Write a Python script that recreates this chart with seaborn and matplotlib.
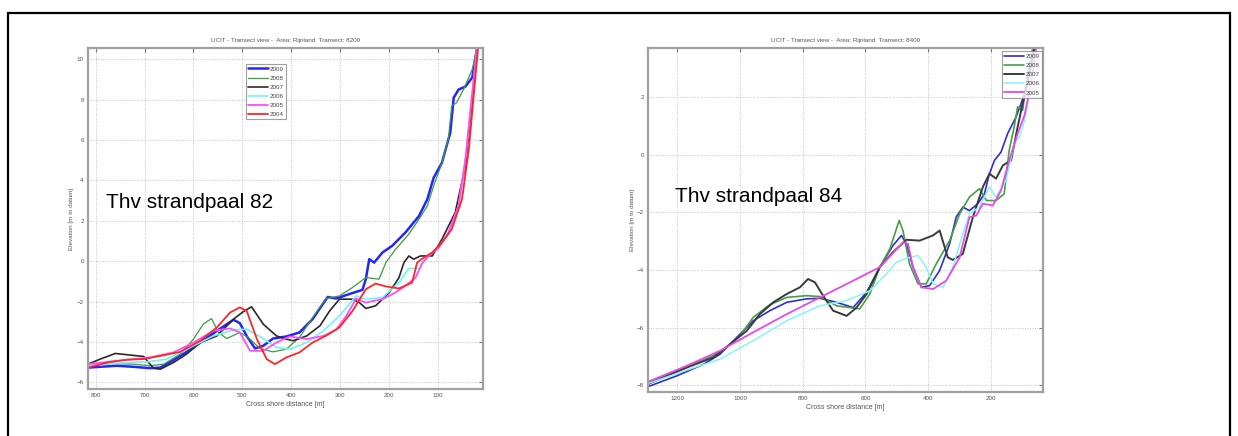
import matplotlib
matplotlib.use("Agg")
import matplotlib.pyplot as plt
import seaborn as sns

# =============================================================================
# Transect 8200 (strandpaal 82) - cross shore distance [m] / elevation [m]
# =============================================================================
x82_2009 = [816, 791, 757, 723, 689, 668, 641, 614, 586, 552, 518, 505, 491, 474, 457, 437, 410,
            383, 356, 325, 308, 281, 254, 247, 240, 230, 213, 193, 166, 138, 121, 108, 91, 74,
            67, 57, 43, 29, 19]
y82_2009 = [-5.27, -5.23, -5.18, -5.23, -5.30, -5.27, -4.90, -4.49, -4.03, -3.45, -2.90, -3.07,
            -3.70, -4.32, -4.19, -3.83, -3.73, -3.53, -2.87, -1.77, -1.85, -1.63, -1.42, -0.89,
            0.10, -0.07, 0.43, 0.76, 1.42, 2.24, 3.07, 4.14, 4.88, 6.37, 8.10, 8.50, 8.65, 9.10,
            10.6]

x82_2008 = [816, 771, 723, 689, 661, 627, 600, 580, 563, 549, 532, 505, 488, 464, 437, 410, 383,
            356, 329, 301, 274, 247, 220, 206, 186, 169, 159, 138, 121, 108, 91, 78, 71, 61, 47,
            29, 19]
y82_2008 = [-5.18, -5.07, -5.10, -5.18, -5.10, -4.60, -3.86, -3.12, -2.84, -3.53, -3.83, -3.53,
            -3.78, -4.32, -4.49, -4.36, -3.78, -2.79, -1.85, -1.72, -1.30, -0.81, -0.89, -0.07,
            0.59, 1.06, 1.34, 2.08, 2.74, 3.73, 4.88, 6.04, 7.69, 7.85, 8.50, 9.50, 10.6]

x82_2007 = [816, 791, 760, 729, 702, 682, 668, 641, 614, 586, 552, 518, 498, 481, 457, 430, 410,
            396, 368, 341, 321, 301, 274, 260, 247, 227, 199, 179, 169, 159, 149, 135, 111, 91,
            64, 43, 29, 19]
y82_2007 = [-5.10, -4.85, -4.57, -4.65, -4.72, -5.30, -5.35, -5.02, -4.60, -4.03, -3.70, -2.87,
            -2.50, -2.26, -3.12, -3.70, -3.86, -3.94, -3.70, -3.20, -2.46, -1.88, -1.88, -2.05,
            -2.34, -2.21, -1.55, -0.81, -0.07, 0.26, 0.10, 0.26, 0.26, 1.09, 2.41, 4.72, 8.02,
            10.6]

x82_2006 = [816, 757, 689, 655, 614, 559, 518, 491, 464, 430, 403, 368, 334, 301, 267, 247, 213,
            179, 159, 138, 118, 97, 78, 57, 43, 29, 19]
y82_2006 = [-5.18, -5.05, -4.97, -4.85, -4.36, -3.70, -3.40, -3.37, -3.73, -4.27, -4.36, -4.03,
            -3.45, -2.71, -1.72, -1.88, -1.80, -1.06, -0.36, -0.36, 0.26, 0.76, 1.34, 2.74, 5.05,
            8.35, 10.6]

x82_2005 = [816, 757, 689, 641, 600, 559, 525, 505, 484, 457, 430, 403, 368, 334, 308, 287, 267,
            247, 213, 186, 166, 145, 131, 118, 97, 78, 57, 43, 29, 19]
y82_2005 = [-5.10, -4.93, -4.77, -4.52, -4.03, -3.45, -3.33, -3.53, -4.44, -4.44, -4.03, -3.73,
            -3.86, -3.70, -3.40, -2.71, -1.85, -2.05, -1.88, -1.55, -1.22, -0.81, -0.07, 0.26,
            0.68, 1.42, 2.74, 5.05, 8.35, 10.6]

x82_2004 = [816, 777, 736, 702, 668, 627, 586, 552, 525, 505, 491, 470, 450, 433, 410, 383, 356,
            329, 301, 274, 247, 227, 206, 179, 152, 142, 131, 111, 91, 71, 50, 36, 17]
y82_2004 = [-5.27, -5.02, -4.88, -4.85, -4.69, -4.49, -3.94, -3.28, -2.54, -2.29, -2.46, -3.86,
            -4.85, -5.10, -4.77, -4.52, -4.03, -3.70, -3.28, -2.46, -1.39, -1.11, -1.25, -1.35,
            -1.06, -0.07, 0.13, 0.43, 0.92, 1.58, 3.07, 5.54, 10.6]

# =============================================================================
# Transect 8400 (strandpaal 84)
# =============================================================================
x84_2009 = [1295, 1202, 1117, 1064, 1011, 958, 905, 851, 788, 745, 692, 639, 596, 554, 512, 485,
            469, 448, 421, 395, 363, 331, 310, 289, 268, 241, 220, 204, 188, 167, 146, 119, 103,
            92, 76, 60]
y84_2009 = [-8.05, -7.67, -7.27, -6.92, -6.34, -5.76, -5.41, -5.12, -5.00, -4.98, -5.12, -5.30,
            -4.77, -3.90, -3.15, -2.80, -3.09, -3.90, -4.60, -4.54, -4.02, -3.09, -2.16, -1.82,
            -1.94, -1.70, -1.36, -0.66, -0.20, 0.09, 0.73, 1.31, 1.77, 2.12, 3.05, 3.68]

x84_2008 = [1295, 1170, 1064, 1000, 958, 905, 851, 788, 745, 692, 618, 586, 554, 522, 492, 480,
            459, 432, 406, 374, 331, 299, 268, 236, 214, 183, 157, 141, 125, 114, 98, 82, 66]
y84_2008 = [-7.90, -7.38, -6.86, -6.28, -5.64, -5.20, -4.95, -4.89, -4.92, -5.24, -5.35, -4.83,
            -3.90, -3.27, -2.28, -2.63, -3.79, -4.48, -4.48, -3.79, -2.98, -2.05, -1.47, -1.18,
            -1.59, -1.59, -1.36, 0.15, 0.96, 1.66, 1.54, 2.82, 3.68]

x84_2007 = [1295, 1170, 1085, 1032, 979, 937, 894, 851, 809, 783, 761, 735, 703, 660, 628, 596,
            554, 512, 469, 427, 384, 363, 337, 321, 289, 257, 225, 204, 183, 161, 135, 114, 98,
            76, 60]
y84_2007 = [-7.96, -7.38, -7.03, -6.57, -6.11, -5.53, -5.12, -4.83, -4.60, -4.31, -4.43, -4.89,
            -5.41, -5.59, -5.30, -4.83, -3.90, -3.38, -2.95, -2.98, -2.80, -2.63, -3.56, -3.65,
            -3.44, -2.17, -1.12, -0.66, -0.83, -0.37, -0.20, 0.96, 1.77, 2.82, 3.68]

x84_2006 = [1295, 1170, 1064, 958, 851, 745, 660, 586, 533, 501, 459, 432, 406, 384, 352, 321,
            289, 268, 236, 204, 183, 151, 125, 108, 92, 71, 55]
y84_2006 = [-7.94, -7.47, -7.09, -6.45, -5.76, -5.24, -5.06, -4.72, -4.14, -3.73, -3.56, -3.50,
            -3.90, -4.48, -4.60, -3.90, -2.75, -2.05, -1.82, -1.12, -1.47, -0.89, 0.38, 0.61,
            1.19, 2.47, 3.68]

x84_2005 = [1295, 1170, 1064, 958, 851, 745, 639, 554, 480, 464, 448, 421, 384, 342, 299, 268,
            246, 225, 193, 167, 141, 114, 92, 71, 55]
y84_2005 = [-7.88, -7.32, -6.80, -6.16, -5.53, -4.95, -4.37, -3.90, -3.04, -3.09, -3.90, -4.60,
            -4.66, -4.37, -3.56, -2.17, -2.11, -1.70, -1.76, -1.24, -0.20, 0.73, 1.37, 2.47, 3.68]

series_82 = [("2009", x82_2009, y82_2009, "#2424ff", 1.8),
             ("2008", x82_2008, y82_2008, "#3c9c3c", 0.9),
             ("2007", x82_2007, y82_2007, "#2a2a2a", 1.2),
             ("2006", x82_2006, y82_2006, "#70f4f4", 1.2),
             ("2005", x82_2005, y82_2005, "#ff4cff", 1.3),
             ("2004", x82_2004, y82_2004, "#ff2626", 1.3)]

series_84 = [("2009", x84_2009, y84_2009, "#3030c8", 1.2),
             ("2008", x84_2008, y84_2008, "#44a044", 1.2),
             ("2007", x84_2007, y84_2007, "#3a3a3a", 1.4),
             ("2006", x84_2006, y84_2006, "#86f4f4", 1.1),
             ("2005", x84_2005, y84_2005, "#e848e8", 1.3)]

ticks_x82 = [800, 700, 600, 500, 400, 300, 200, 100]
ticks_y82 = [-6, -4, -2, 0, 2, 4, 6, 8, 10]
ticks_x84 = [1200, 1000, 800, 600, 400, 200]
ticks_y84 = [-8, -6, -4, -2, 0, 2]

sns.set_style("white")
plt.rcParams['font.family'] = ['Liberation Sans', 'DejaVu Sans']

fig = plt.figure(figsize=(12.38, 4.36), dpi=100)

# document frame around both pictures
frame = plt.Rectangle((8 / 1238, -0.1), 1222 / 1238, 0.1 + (436 - 13) / 436,
                      transform=fig.transFigure, fill=False, edgecolor='black',
                      linewidth=1.6, clip_on=False)
fig.add_artist(frame)


def draw_panel(ax, series, title, xlim, ylim, xticks, yticks, label_text, text_pos,
               legend_kw, ylab_pad):
    for year, xs, ys, col, lw in series:
        sns.lineplot(x=xs, y=ys, ax=ax, color=col, linewidth=lw, label=year,
                     sort=False, estimator=None)
    ax.set_xlim(*xlim)
    ax.set_ylim(*ylim)
    ax.set_xticks(xticks)
    ax.set_yticks(yticks)
    ax.grid(True, linestyle=(0, (1, 1.5)), color='#c4c4c4', linewidth=0.7)
    ax.tick_params(direction='in', length=3, width=0.8, colors='#777777', labelsize=4.5,
                   top=True, right=True, labelcolor='#555555', pad=3)
    for sp in ax.spines.values():
        sp.set_color('#a0a0a0')
        sp.set_linewidth(1.6)
    ax.set_title(title, fontsize=4.5, color='#555555', pad=4)
    ax.set_xlabel('Cross shore distance [m]', fontsize=5, color='#555555', labelpad=2)
    ax.set_ylabel('Elevation [m to datum]', fontsize=4.5, color='#555555', labelpad=ylab_pad)
    ax.text(text_pos[0], text_pos[1], label_text, transform=ax.transAxes, fontsize=15,
            color='black', va='center', ha='left')
    leg = ax.legend(fontsize=4.5, frameon=True, fancybox=False, handlelength=3.2,
                    handletextpad=0.3, borderpad=0.35, labelspacing=0.6, borderaxespad=0,
                    **legend_kw)
    leg.get_frame().set_edgecolor('#888888')
    leg.get_frame().set_linewidth(0.8)
    for t in leg.get_texts():
        t.set_color('#444444')


ax1 = fig.add_axes([88 / 1238, (436 - 389) / 436, 395 / 1238, 341 / 436])
draw_panel(ax1, series_82, 'UCIT - Transect view -  Area: Rijnland  Transect: 8200',
           (816, 7), (-6.33, 10.56), ticks_x82, ticks_y82, 'Thv strandpaal 82', (0.046, 0.548),
           dict(loc='upper left', bbox_to_anchor=(0.40, 0.953)), 2)

ax2 = fig.add_axes([648 / 1238, (436 - 392) / 436, 395 / 1238, 344 / 436])
draw_panel(ax2, series_84, 'UCIT - Transect view -  Area: Rijnland  Transect: 8400',
           (1294, 33), (-8.23, 3.70), ticks_x84, ticks_y84, 'Thv strandpaal 84', (0.068, 0.567),
           dict(loc='upper right', bbox_to_anchor=(0.997, 0.99)), 1)

fig.savefig('out.png', dpi=100, facecolor='white')
